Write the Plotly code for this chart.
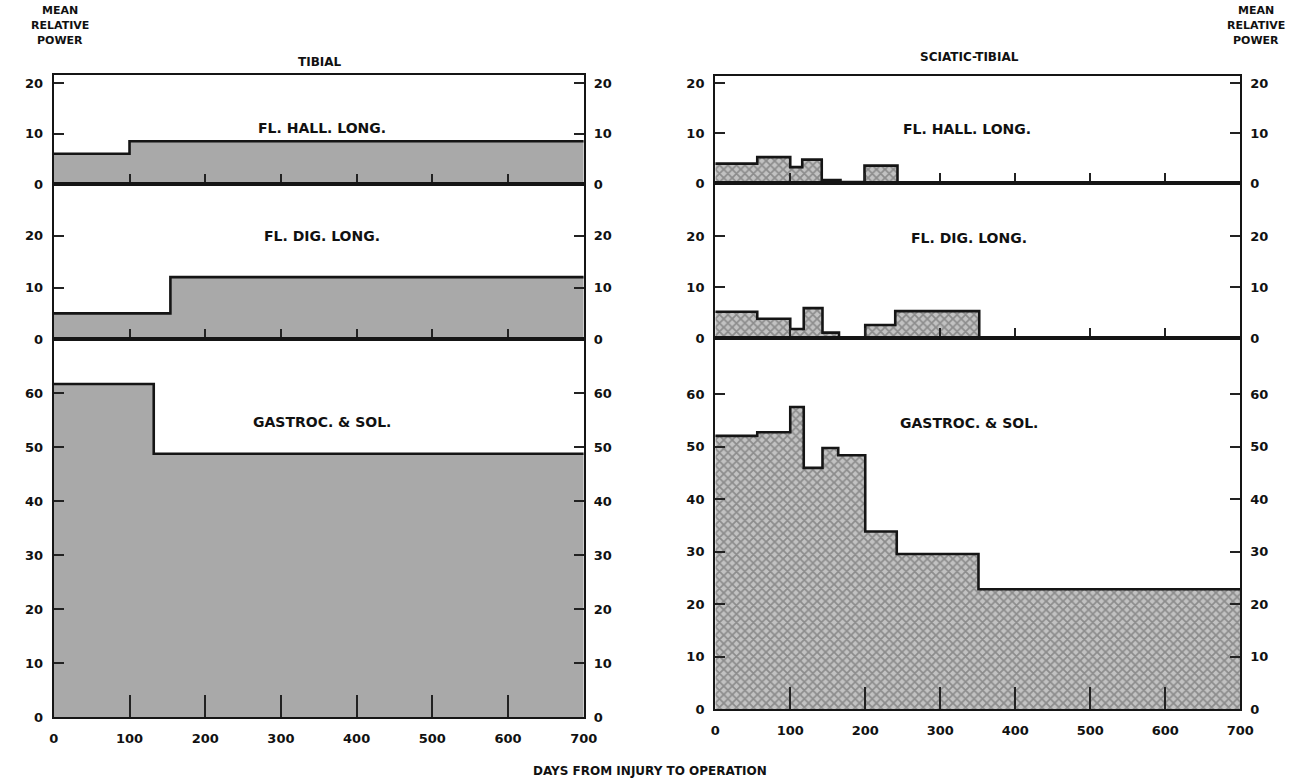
import plotly.graph_objects as go

W, H = 1293, 779

# ---------------- data (days from injury, mean relative power) ----------------
# Tibial
tib_fhl_edges = [0, 100, 700]
tib_fhl_vals = [6, 8.5]
tib_fdl_edges = [0, 154, 700]
tib_fdl_vals = [5, 12]
tib_gas_edges = [0, 132, 700]
tib_gas_vals = [61.7, 48.8]

# Sciatic-tibial
sci_fhl_edges = [0, 56, 100, 116, 142, 167, 199, 243, 700]
sci_fhl_vals = [3.9, 5.2, 3.2, 4.7, 0.6, 0.2, 3.5, 0]
sci_fdl_edges = [0, 56, 100, 118, 143, 165, 200, 240, 352, 700]
sci_fdl_vals = [5.2, 3.8, 1.8, 5.9, 1.1, 0, 2.6, 5.3, 0]
sci_gas_edges = [0, 56, 100, 118, 143, 164, 200, 242, 351, 700]
sci_gas_vals = [52.1, 52.8, 57.6, 46.0, 49.8, 48.4, 33.9, 29.6, 22.9]

x_ticks = [0, 100, 200, 300, 400, 500, 600, 700]
x_tick_text = ["0", "100", "200", "300", "400", "500", "600", "700"]
small_y_ticks = [0, 10, 20]
big_y_ticks = [0, 10, 20, 30, 40, 50, 60]

panel_names = ["FL. HALL. LONG.", "FL. DIG. LONG.", "GASTROC. & SOL."]
# ------------------------------------------------------------------------------

FONT = "DejaVu Sans"
S = 1.011  # layout scale correction


def px(x):
    return min(x * S / W, 1.0)


def py(y):
    return max(1 - y * S / H, 0.0)


left_fill = dict(fill="tozeroy", fillcolor="#a9a9a9")
right_fill = dict(
    fill="tozeroy",
    fillcolor="#b4b4b4",
    fillpattern=dict(shape="x", fgcolor="#555555", bgcolor="#c2c2c2", size=6, solidity=0.5),
)

panels = [
    # (edges, vals, xdomain px, ydomain px (top, bottom), yrange, yticks, fill, title x px, title y px, x ticklen)
    (tib_fhl_edges, tib_fhl_vals, (49, 581), (75, 184), 21.6, small_y_ticks, left_fill, 318, 128, 10),
    (tib_fdl_edges, tib_fdl_vals, (49, 581), (184, 339), 30.0, small_y_ticks, left_fill, 318, 236, 10),
    (tib_gas_edges, tib_gas_vals, (49, 581), (339, 717), 70.0, big_y_ticks, left_fill, 318, 422, 22),
    (sci_fhl_edges, sci_fhl_vals, (713, 1240), (76, 183), 21.4, small_y_ticks, right_fill, 966, 129, 10),
    (sci_fdl_edges, sci_fdl_vals, (713, 1240), (183, 338), 30.4, small_y_ticks, right_fill, 968, 238, 10),
    (sci_gas_edges, sci_gas_vals, (713, 1240), (338, 709), 70.7, big_y_ticks, right_fill, 968, 423, 22),
]

fig = go.Figure()
layout = {}
annotations = []

tickfont = dict(family=FONT, size=13, color="#111", weight="bold")

for i, (edges, vals, xd, yd, ymax, yticks, fillspec, tx, ty, xtlen) in enumerate(panels):
    k = i + 1
    kr = i + 7
    xs = list(edges)
    ys = list(vals) + [vals[-1]]
    fig.add_trace(go.Scatter(
        x=xs, y=ys, mode="lines", line=dict(shape="hv", color="#151515", width=2.6),
        xaxis=f"x{k}", yaxis=f"y{k}", showlegend=False, hoverinfo="skip", **fillspec,
    ))
    bottom = (i % 3 == 2)
    layout[f"xaxis{k}"] = dict(
        domain=[px(xd[0]), px(xd[1])], range=[0, 700], anchor=f"y{k}",
        showline=True, linecolor="#151515", linewidth=2.4, mirror=True,
        ticks="inside", ticklen=xtlen, tickwidth=2, tickcolor="#222",
        tickvals=x_ticks, ticktext=x_tick_text, showticklabels=bottom,
        tickfont=tickfont, ticklabelstandoff=8,
        showgrid=False, zeroline=False, fixedrange=True,
    )
    layout[f"yaxis{k}"] = dict(
        domain=[py(yd[1]), py(yd[0])], range=[0, ymax], anchor=f"x{k}",
        showline=True, linecolor="#151515", linewidth=2.4, mirror=True,
        ticks="inside", ticklen=10, tickwidth=2, tickcolor="#222",
        tickvals=yticks, tickfont=tickfont, ticklabelstandoff=6,
        showgrid=False, zeroline=False, fixedrange=True,
    )
    layout[f"yaxis{kr}"] = dict(
        overlaying=f"y{k}", side="right", anchor=f"x{k}", range=[0, ymax],
        showline=False, ticks="inside", ticklen=10, tickwidth=2, tickcolor="#222",
        tickvals=yticks, tickfont=tickfont, ticklabelstandoff=9,
        showgrid=False, zeroline=False, fixedrange=True,
    )
    # invisible trace so the right-hand axis is drawn
    fig.add_trace(go.Scatter(x=[None], y=[None], xaxis=f"x{k}", yaxis=f"y{kr}",
                             showlegend=False, hoverinfo="skip"))
    annotations.append(dict(
        text=panel_names[i % 3], x=px(tx), y=py(ty), xref="paper", yref="paper",
        xanchor="center", yanchor="middle", showarrow=False,
        font=dict(family=FONT, size=14, color="#111", weight="bold"),
    ))

for text, x, y in [("TIBIAL", 316, 62), ("SCIATIC-TIBIAL", 968, 57)]:
    annotations.append(dict(text=text, x=px(x), y=py(y), xref="paper", yref="paper",
                            xanchor="center", yanchor="middle", showarrow=False,
                            font=dict(family=FONT, size=12, color="#111", weight="bold")))

for x in (55, 1256):
    for text, y in [("MEAN", 10), ("RELATIVE", 25), ("POWER", 40)]:
        annotations.append(dict(text=text, x=px(x), y=py(y), xref="paper", yref="paper",
                                xanchor="center", yanchor="middle", showarrow=False,
                                font=dict(family=FONT, size=11, color="#111", weight="bold")))

annotations.append(dict(text="DAYS FROM INJURY TO OPERATION", x=px(647), y=py(771), xref="paper", yref="paper",
                        xanchor="center", yanchor="middle", showarrow=False,
                        font=dict(family=FONT, size=12, color="#111", weight="bold")))

fig.update_layout(
    width=W, height=H, margin=dict(l=0, r=0, t=0, b=0),
    paper_bgcolor="white", plot_bgcolor="white",
    annotations=annotations, **layout,
)

fig.write_html("out.html")
